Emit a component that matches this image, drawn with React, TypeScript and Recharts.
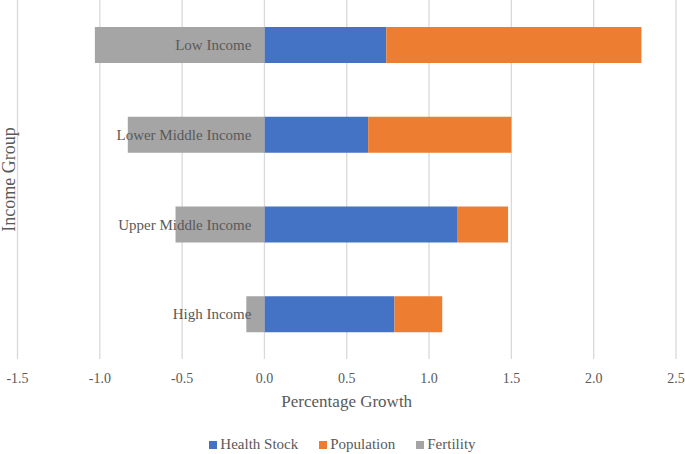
import { BarChart, Bar, XAxis, YAxis, CartesianGrid, Legend, LabelList } from 'recharts';

const incomeGroups = ['Low Income', 'Lower Middle Income', 'Upper Middle Income', 'High Income'];
const healthStock = [0.74, 0.63, 1.17, 0.79];
const population = [1.55, 0.87, 0.31, 0.29];
const fertility = [-1.03, -0.83, -0.54, -0.11];
const xTicks = [-1.5, -1.0, -0.5, 0, 0.5, 1.0, 1.5, 2.0, 2.5];

const FONT = '"Liberation Serif", "Times New Roman", serif';
const TEXT = '#595959';

const series = [
  { key: 'health', name: 'Health Stock', color: '#4472C4' },
  { key: 'population', name: 'Population', color: '#ED7D31' },
  { key: 'fertility', name: 'Fertility', color: '#A5A5A5' },
];

const data = incomeGroups.map((name, i) => ({
  name,
  health: healthStock[i],
  population: population[i],
  fertility: fertility[i],
}));

// category names sit just left of the zero line, like Excel's axis-at-zero labels
function CategoryLabel(props: any) {
  const { x, y, width, height, value } = props;
  const right = Math.max(x, x + width);
  return (
    <text x={right - 13} y={y + height / 2 + 5} textAnchor="end" fontSize={15} fill={TEXT} fontFamily={FONT}>
      {value}
    </text>
  );
}

function LegendBox() {
  return (
    <div style={{ height: 20, display: 'flex', justifyContent: 'center', alignItems: 'center', gap: 21, fontFamily: FONT, fontSize: 15, color: TEXT, lineHeight: '20px' }}>
      {series.map(s => (
        <span key={s.key} style={{ display: 'flex', alignItems: 'center' }}>
          <span style={{ width: 8, height: 8, background: s.color, marginRight: 3, display: 'inline-block', position: 'relative', top: 1 }} />
          {s.name}
        </span>
      ))}
    </div>
  );
}

export default function App() {
  return (
    <div style={{ position: 'absolute', left: 0, top: 0, background: '#fff' }}>
      <BarChart
        width={685}
        height={454}
        data={data}
        layout="vertical"
        stackOffset="sign"
        barSize={36}
        margin={{ top: 0, right: 9, left: 0, bottom: 0 }}
      >
        <CartesianGrid horizontal={false} stroke="#d9d9d9" strokeWidth={1.3} />
        <XAxis
          type="number"
          domain={[-1.5, 2.5]}
          ticks={xTicks}
          tickFormatter={(v: number) => v.toFixed(1)}
          axisLine={false}
          tickLine={false}
          tickSize={6}
          tickMargin={8}
          height={75}
          tick={{ fontSize: 14, fill: TEXT, fontFamily: FONT }}
          label={{ value: 'Percentage Growth', position: 'insideBottom', offset: 27, fontSize: 17, fill: TEXT, fontFamily: FONT }}
        />
        <YAxis
          type="category"
          dataKey="name"
          width={17.5}
          tick={false}
          axisLine={false}
          tickLine={false}
          label={{ value: 'Income Group', angle: -90, position: 'center', fontSize: 18, fill: TEXT, fontFamily: FONT }}
        />
        <Legend content={<LegendBox />} verticalAlign="bottom" wrapperStyle={{ left: 0, width: 685 }} />
        {series.map(s => (
          <Bar key={s.key} dataKey={s.key} name={s.name} stackId="a" fill={s.color} isAnimationActive={false}>
            {s.key === 'fertility' && <LabelList dataKey="name" content={<CategoryLabel />} />}
          </Bar>
        ))}
      </BarChart>
    </div>
  );
}
